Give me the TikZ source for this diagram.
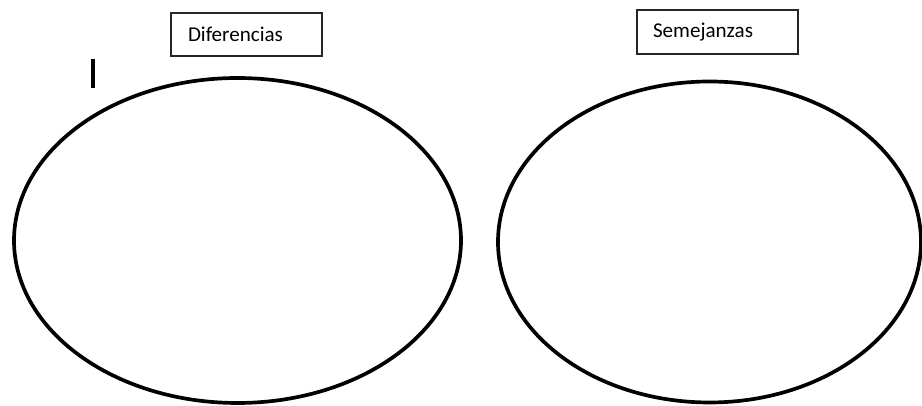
\documentclass[tikz,border=0pt]{standalone}
\usepackage{fontspec}
\setmainfont{Carlito}
\usetikzlibrary{shapes.geometric,positioning}

\begin{document}
\begin{tikzpicture}[
  oval/.style={
    draw=black,
    ellipse,
    line width=2.1pt,
    inner sep=0pt
  },
  label box/.style={
    draw=black!85,
    line width=.6pt,
    align=left,
    inner ysep=0pt,
    font=\fontsize{12}{14}\selectfont
  }
]
\useasboundingbox (0,0) rectangle (18.44,8.12);

% two ovals
\node[oval,minimum width=8.94cm,minimum height=6.50cm]
  (diff) at (4.75,3.31) {};
\node[oval,minimum width=8.46cm,minimum height=6.42cm]
  (same) at (14.19,3.28) {};

% headings
\node[label box,inner xsep=.34cm,text width=2.34cm,minimum height=.86cm]
  (difftitle) at (4.93,7.43) {Diferencias};
\node[label box,inner xsep=.32cm,text width=2.58cm,minimum height=.88cm]
  (sametitle) at (14.35,7.48) {Semejanzas};

% text cursor
\draw[line width=2pt] (1.86,6.94) -- (1.86,6.36);
\end{tikzpicture}
\end{document}
